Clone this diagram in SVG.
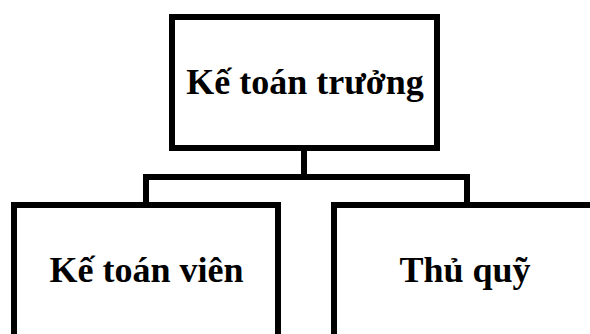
<svg xmlns="http://www.w3.org/2000/svg" width="590" height="334" viewBox="0 0 590 334">
<style>
.box{fill:#fff;stroke:#000;stroke-width:6}
.lbl{font-family:"Liberation Serif","Times New Roman",serif;font-weight:bold;font-size:36px;fill:#000;text-anchor:middle}
.conn{fill:none;stroke:#000;stroke-width:6;stroke-linejoin:miter}
</style>
<rect width="590" height="334" fill="#fff"/>
<g id="connectors">
<path class="conn" d="M304 150 V177"/>
<path class="conn" d="M146 205 V177 H467 V205"/>
</g>
<g id="node-ketoantruong">
<rect class="box" x="172" y="17" width="265" height="131"/>
<text class="lbl" x="305" y="94">Kế toán trưởng</text>
</g>
<g id="node-ketoanvien">
<rect class="box" x="14" y="205" width="264" height="140"/>
<text class="lbl" x="146.5" y="282">Kế toán viên</text>
</g>
<g id="node-thuquy">
<rect class="box" x="334" y="205" width="264" height="140"/>
<text class="lbl" x="465" y="282">Thủ quỹ</text>
</g>
</svg>
